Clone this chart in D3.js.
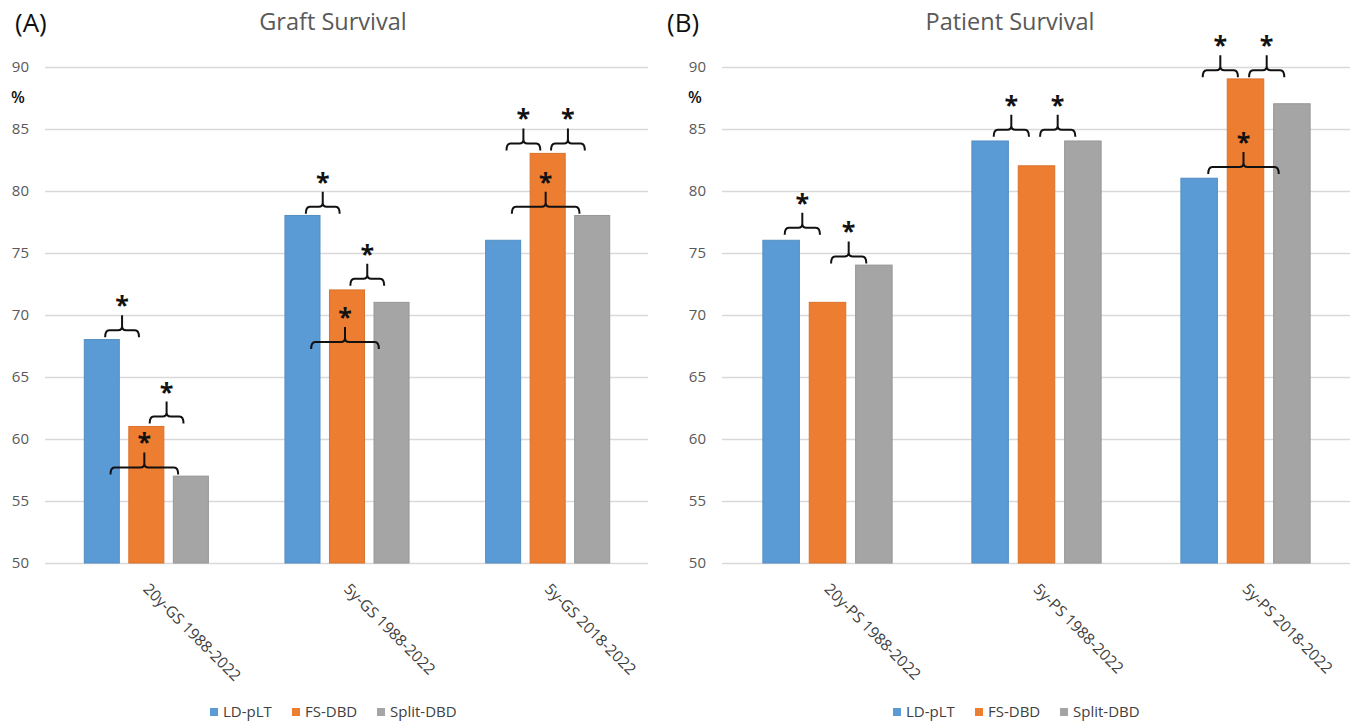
<!DOCTYPE html>
<html>
<head>
<meta charset="utf-8">
<script src="https://cdn.jsdelivr.net/npm/d3@7"></script>
<style>
  html, body { margin: 0; padding: 0; background: #fff; }
  svg { display: block; }
  text { font-family: "Open Sans", "Noto Sans", sans-serif; }
</style>
</head>
<body>
<svg id="chart" width="1351" height="721"></svg>
<script>
// ---------------- data ----------------
const seriesNames = ["LD-pLT", "FS-DBD", "Split-DBD"];
const seriesColors = ["#5B9BD5", "#ED7D31", "#A5A5A5"];
const yTicks = [50, 55, 60, 65, 70, 75, 80, 85, 90];

const graftCategories = ["20y-GS 1988-2022", "5y-GS 1988-2022", "5y-GS 2018-2022"];
const graftLD = [68, 78, 76];
const graftFS = [61, 72, 83];
const graftSplit = [57, 71, 78];
// [category index, series a, series b, bracket level (%)]
const graftBrackets = [
  [0, 0, 1, 68.75], [0, 1, 2, 61.8], [0, 0, 2, 57.7],
  [1, 0, 1, 78.7], [1, 1, 2, 72.9], [1, 0, 2, 67.8],
  [2, 0, 1, 83.8], [2, 1, 2, 83.8], [2, 0, 2, 78.7]
];

const patientCategories = ["20y-PS 1988-2022", "5y-PS 1988-2022", "5y-PS 2018-2022"];
const patientLD = [76, 84, 81];
const patientFS = [71, 82, 89];
const patientSplit = [74, 84, 87];
const patientBrackets = [
  [0, 0, 1, 77.0], [0, 1, 2, 74.7],
  [1, 0, 1, 84.9], [1, 1, 2, 84.9],
  [2, 0, 1, 89.7], [2, 1, 2, 89.7], [2, 0, 2, 81.9]
];

// ---------------- drawing ----------------
const svg = d3.select("#chart");

function drawPanel(opt) {
  const { x0, x1, categories, values, brackets, title, tag, titleX, tagX, labelX, legendX } = opt;
  const g = svg.append("g");

  const y = d3.scaleLinear().domain([50, 90]).range([563, 66.5]);
  const x = d3.scaleBand().domain(categories).range([x0, x1]).paddingInner(0).paddingOuter(0);
  const xs = d3.scaleBand().domain(seriesNames).range([0, x.bandwidth()])
    .paddingInner(0.213).paddingOuter(0.86);

  // gridlines
  g.append("g").selectAll("line").data(yTicks).join("line")
    .attr("x1", x0 - 1).attr("x2", x1)
    .attr("y1", d => Math.round(y(d)) + 0.5).attr("y2", d => Math.round(y(d)) + 0.5)
    .attr("stroke", "#d9d9d9").attr("stroke-width", 1.3);

  // y tick labels
  g.append("g").selectAll("text").data(yTicks).join("text")
    .attr("x", labelX).attr("y", d => y(d))
    .attr("dy", "0.35em").attr("text-anchor", "end")
    .attr("font-size", 15).attr("fill", "#595959")
    .text(d => d);

  // % label
  g.append("text").attr("x", labelX - 11).attr("y", y(87.5)).attr("dy", "0.35em")
    .attr("text-anchor", "middle").attr("font-size", 16).attr("font-weight", 600)
    .attr("fill", "#111").text("%");

  // bars
  const rows = [];
  categories.forEach((c, i) => {
    seriesNames.forEach((s, j) => rows.push({ c, s, j, v: values[j][i] }));
  });
  g.append("g").selectAll("rect").data(rows).join("rect")
    .attr("x", d => x(d.c) + xs(d.s))
    .attr("y", d => y(d.v))
    .attr("width", xs.bandwidth())
    .attr("height", d => y(50) - y(d.v))
    .attr("fill", d => seriesColors[d.j])
    .attr("stroke", d => d3.color(seriesColors[d.j]).darker(0.25))
    .attr("stroke-width", 1);

  // x labels (rotated)
  g.append("g").selectAll("text").data(categories).join("text")
    .attr("transform", d => `translate(${x(d) + x.bandwidth() / 2 - 4},590) rotate(45)`)
    .attr("font-size", 15.5).attr("fill", "#404040")
    .text(d => d);

  // significance brackets
  const center = (ci, sj) => x(categories[ci]) + xs(seriesNames[sj]) + xs.bandwidth() / 2;
  const bg = g.append("g");
  brackets.forEach(([ci, a, b, lvl]) => {
    const ca = center(ci, a), cb = center(ci, b);
    const mid = (ca + cb) / 2 - 2;
    const half = Math.abs(cb - ca) * 0.38;
    const xl = mid - half, xr = mid + half;
    const yh = y(lvl);
    const hook = 7, stem = 15, r = 4;
    const path = `M${xl},${yh + hook} Q${xl},${yh} ${xl + r},${yh} L${mid - r},${yh} Q${mid},${yh} ${mid},${yh - r} L${mid},${yh - stem}` +
      ` M${mid},${yh - r} Q${mid},${yh} ${mid + r},${yh} L${xr - r},${yh} Q${xr},${yh} ${xr},${yh + hook}`;
    bg.append("path").attr("d", path).attr("fill", "none")
      .attr("stroke", "#111").attr("stroke-width", 2);
    bg.append("text").attr("x", mid).attr("y", yh - stem - 1)
      .attr("text-anchor", "middle").attr("font-size", 25).attr("font-weight", "bold")
      .attr("font-family", "Liberation Sans, Arial, sans-serif")
      .attr("fill", "#111").text("*");
  });

  // title & tag
  svg.append("text").attr("x", titleX).attr("y", 30).attr("text-anchor", "middle")
    .attr("font-size", 23.5).attr("fill", "#595959").text(title);
  svg.append("text").attr("x", tagX).attr("y", 32)
    .attr("font-size", 26).attr("fill", "#111").text(tag);

  // legend
  const lg = svg.append("g").attr("transform", `translate(${legendX},712)`);
  const offs = [0, 82, 167];
  seriesNames.forEach((s, j) => {
    lg.append("rect").attr("x", offs[j]).attr("y", -4).attr("width", 8).attr("height", 8)
      .attr("fill", seriesColors[j]);
    lg.append("text").attr("x", offs[j] + 13).attr("y", 0).attr("dy", "0.35em")
      .attr("font-size", 15).attr("fill", "#404040").text(s);
  });
}

drawPanel({
  x0: 46, x1: 648, categories: graftCategories,
  values: [graftLD, graftFS, graftSplit], brackets: graftBrackets,
  title: "Graft Survival", tag: "(A)", titleX: 333, tagX: 15, labelX: 29, legendX: 210
});
drawPanel({
  x0: 723, x1: 1350, categories: patientCategories,
  values: [patientLD, patientFS, patientSplit], brackets: patientBrackets,
  title: "Patient Survival", tag: "(B)", titleX: 1010, tagX: 667, labelX: 706, legendX: 893
});
</script>
</body>
</html>
